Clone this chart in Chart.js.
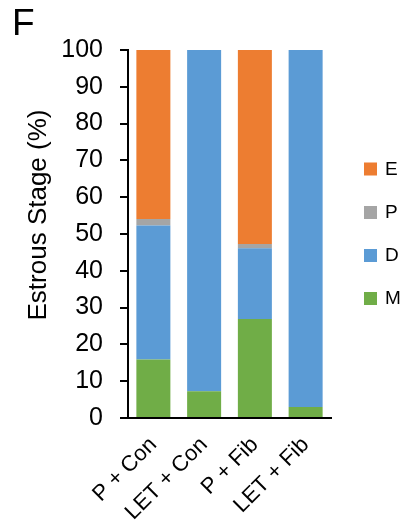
<!DOCTYPE html>
<html>
<head>
<meta charset="utf-8">
<script src="https://cdn.jsdelivr.net/npm/chart.js@4"></script>
<style>
  html, body { margin: 0; padding: 0; background: #fff; }
  #wrap { width: 406px; height: 525px; }
</style>
</head>
<body>
<div id="wrap"><canvas id="estrousChart"></canvas></div>
<script>
const groups = ["P + Con", "LET + Con", "P + Fib", "LET + Fib"];
const stageM = [15.9, 7.3, 26.9, 3.0];
const stageD = [36.4, 92.7, 19.2, 97.0];
const stageP = [1.8, 0, 1.2, 0];
const stageE = [45.9, 0, 52.7, 0];
const yTicks = [0, 10, 20, 30, 40, 50, 60, 70, 80, 90, 100];

const FONT = "'Liberation Sans', Arial, sans-serif";

// panel letter, y title and legend on the right (E, P, D, M top to bottom)
const extras = {
  id: "extras",
  afterDraw(chart) {
    const ctx = chart.ctx;
    ctx.save();
    ctx.fillStyle = "#000";
    ctx.font = "37px " + FONT;
    ctx.textBaseline = "alphabetic";
    ctx.fillText("F", 12, 35);

    ctx.save();
    ctx.translate(45.5, 215);
    ctx.rotate(-Math.PI / 2);
    ctx.font = "26px " + FONT;
    ctx.textAlign = "center";
    ctx.fillText("Estrous Stage (%)", 0, 0);
    ctx.restore();

    const rows = [168.5, 212, 255, 298];
    const sets = chart.data.datasets.slice().reverse();
    ctx.font = "19px " + FONT;
    ctx.textBaseline = "middle";
    sets.forEach((ds, i) => {
      ctx.fillStyle = ds.backgroundColor;
      ctx.fillRect(364, rows[i] - 6, 13, 13);
      ctx.fillStyle = "#000";
      ctx.fillText(ds.label, 385, rows[i] + 1);
    });
    ctx.restore();
  }
};

const ctx = document.getElementById("estrousChart").getContext("2d");
const chart = new Chart(ctx, {
  type: "bar",
  data: {
    labels: groups,
    datasets: [
      { label: "M", data: stageM, backgroundColor: "#70AD47" },
      { label: "D", data: stageD, backgroundColor: "#5B9BD5" },
      { label: "P", data: stageP, backgroundColor: "#A5A5A5" },
      { label: "E", data: stageE, backgroundColor: "#ED7D31" },
    ]
  },
  options: {
    responsive: true,
    maintainAspectRatio: false,
    animation: false,
    layout: { padding: { left: 0, right: 75, top: 50, bottom: 0 } },
    datasets: { bar: { categoryPercentage: 1, barPercentage: 0.67, borderWidth: 0 } },
    plugins: {
      legend: { display: false },
      tooltip: { enabled: false }
    },
    scales: {
      x: {
        stacked: true,
        grid: { display: false, drawTicks: false },
        border: { color: "#000", width: 2 },
        ticks: {
          color: "#000",
          font: { family: FONT, size: 22 },
          maxRotation: 45,
          minRotation: 45,
          padding: 14,
          autoSkip: false
        },
        afterFit(s) { s.height = 107; }
      },
      y: {
        stacked: true,
        min: 0,
        max: 100,
        afterBuildTicks(s) { s.ticks = yTicks.map(v => ({ value: v })); },
        grid: {
          drawOnChartArea: false,
          drawTicks: true,
          tickLength: 8,
          color: "#000",
          lineWidth: 2
        },
        border: { color: "#000", width: 2 },
        ticks: {
          color: "#000",
          font: { family: FONT, size: 25 },
          padding: 17
        },
        afterFit(s) { s.width = 128; }
      }
    }
  },
  plugins: [extras]
});
</script>
</body>
</html>
